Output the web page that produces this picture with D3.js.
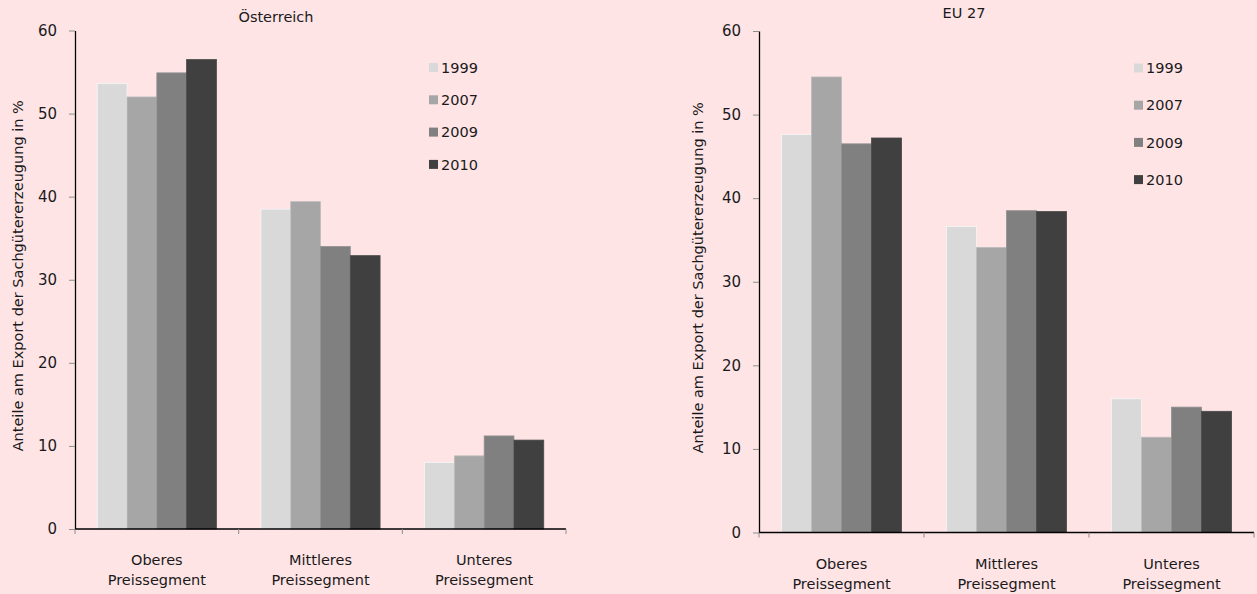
<!DOCTYPE html>
<html>
<head>
<meta charset="utf-8">
<script src="https://cdn.jsdelivr.net/npm/d3@7"></script>
<style>
  html, body { margin: 0; padding: 0; background: #ffe4e6; }
  svg { display: block; }
  text { font-family: "DejaVu Sans", sans-serif; fill: #1a1a1a; }
</style>
</head>
<body>
<svg id="chart" width="1257" height="594"></svg>
<script>
// Price segments (two-line labels)
const categories = ["Oberes Preissegment", "Mittleres Preissegment", "Unteres Preissegment"];
const years = ["1999", "2007", "2009", "2010"];
const yearColors = ["#d9d9d9", "#a6a6a6", "#808080", "#404040"];
const yTicks = [0, 10, 20, 30, 40, 50, 60];
const yTitle = "Anteile am Export der Sachgütererzeugung in %";

// Shares per segment, one array per year
const austria1999 = [53.6, 38.5, 8.0];
const austria2007 = [52.0, 39.4, 8.8];
const austria2009 = [54.9, 34.0, 11.2];
const austria2010 = [56.5, 32.9, 10.7];

const eu1999 = [47.6, 36.6, 16.0];
const eu2007 = [54.5, 34.1, 11.4];
const eu2009 = [46.5, 38.5, 15.0];
const eu2010 = [47.2, 38.4, 14.5];

const panels = [
  { title: "Österreich", series: [austria1999, austria2007, austria2009, austria2010],
    x0: 75, x1: 566, yTop: 30.5, yBottom: 529, titleX: 276, titleY: 22,
    axisTitleX: 18, legendX: 429, legendY: 67.5, legendStep: 32.3 },
  { title: "EU 27", series: [eu1999, eu2007, eu2009, eu2010],
    x0: 759, x1: 1254, yTop: 31, yBottom: 532.5, titleX: 964, titleY: 18,
    axisTitleX: 698, legendX: 1134, legendY: 68, legendStep: 37.2 }
];

const svg = d3.select("#chart");

panels.forEach(p => {
  const g = svg.append("g");

  const x = d3.scaleBand().domain(categories).range([p.x0, p.x1])
    .paddingInner(0.272).paddingOuter(0.136);
  const xs = d3.scaleBand().domain(years).range([0, x.bandwidth()]);
  const y = d3.scaleLinear().domain([0, 60]).range([p.yBottom, p.yTop]);

  // Bars
  years.forEach((yr, i) => {
    g.append("g").selectAll("rect")
      .data(categories.map((c, j) => ({ c, v: p.series[i][j] })))
      .join("rect")
      .attr("x", d => x(d.c) + xs(yr))
      .attr("y", d => y(d.v))
      .attr("width", xs.bandwidth())
      .attr("height", d => y(0) - y(d.v))
      .attr("fill", yearColors[i])
      .attr("stroke", d3.color(yearColors[i]).brighter(0.35))
      .attr("stroke-width", 0.8);
  });

  // Y axis
  const yAxis = g.append("g")
    .attr("transform", `translate(${p.x0},0)`)
    .call(d3.axisLeft(y).tickValues(yTicks).tickSize(6).tickPadding(12).tickSizeOuter(0));
  yAxis.select(".domain").attr("stroke", "#000").attr("stroke-width", 1.3);
  yAxis.selectAll(".tick line").attr("stroke", "#8c8c8c");
  yAxis.selectAll(".tick text").style("font-size", "15px").attr("fill", "#1a1a1a");

  // X axis with ticks at band boundaries
  const xAxis = g.append("g").attr("transform", `translate(0,${p.yBottom})`);
  xAxis.append("line")
    .attr("x1", p.x0).attr("x2", p.x1)
    .attr("stroke", "#000").attr("stroke-width", 1.3);
  const bounds = categories.map(c => x(c) - x.step() * x.paddingInner() / 2).concat([p.x1]);
  xAxis.selectAll(".btick").data(bounds).join("line")
    .attr("x1", d => d).attr("x2", d => d)
    .attr("y1", 0).attr("y2", 5)
    .attr("stroke", "#8c8c8c");

  // Category labels, two lines each
  xAxis.selectAll(".clabel").data(categories).join("text")
    .attr("text-anchor", "middle")
    .style("font-size", "14.5px")
    .attr("x", c => x(c) + x.bandwidth() / 2)
    .attr("y", 36)
    .each(function (c) {
      const parts = c.split(" ");
      d3.select(this).selectAll("tspan").data(parts).join("tspan")
        .attr("x", x(c) + x.bandwidth() / 2)
        .attr("dy", (d, k) => k === 0 ? 0 : 20)
        .text(d => d);
    });

  // Panel title
  g.append("text")
    .attr("x", p.titleX).attr("y", p.titleY)
    .attr("text-anchor", "middle")
    .style("font-size", "14.5px")
    .text(p.title);

  // Y axis title
  g.append("text")
    .attr("transform", `translate(${p.axisTitleX},${(p.yTop + p.yBottom) / 2 - 4}) rotate(-90)`)
    .attr("text-anchor", "middle")
    .attr("dy", "0.35em")
    .style("font-size", "14.5px")
    .text(yTitle);

  // Legend
  const lg = g.append("g");
  years.forEach((yr, i) => {
    const cy = p.legendY + i * p.legendStep;
    lg.append("rect")
      .attr("x", p.legendX).attr("y", cy - 4.5)
      .attr("width", 9).attr("height", 9)
      .attr("fill", yearColors[i]);
    lg.append("text")
      .attr("x", p.legendX + 12).attr("y", cy)
      .attr("dy", "0.36em")
      .style("font-size", "14.5px")
      .text(yr);
  });
});
</script>
</body>
</html>
